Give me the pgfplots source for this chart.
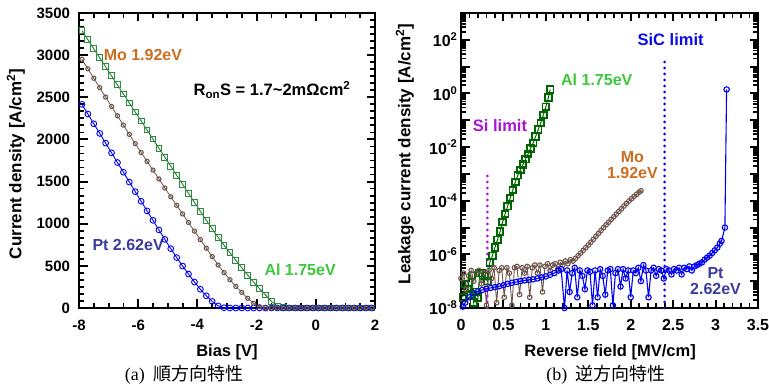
\documentclass[border=0pt]{standalone}
\usepackage{fontspec}
\setmainfont{Liberation Sans}
\newfontfamily\seriffont{Liberation Serif}
\newfontfamily\cjk{Noto Sans CJK JP}
\usepackage{pgfplots}
\pgfplotsset{compat=1.18}
\definecolor{alg}{RGB}{40,140,60}
\definecolor{algl}{RGB}{20,110,30}
\definecolor{allab}{RGB}{60,200,60}
\definecolor{mobr}{RGB}{110,85,75}
\definecolor{molab}{RGB}{205,110,30}
\definecolor{ptb}{RGB}{0,0,240}
\definecolor{ptlab}{RGB}{60,60,160}
\definecolor{aldk}{RGB}{0,100,0}
\definecolor{silim}{RGB}{170,20,210}
\definecolor{siclim}{RGB}{10,10,230}
\pgfplotsset{myax/.style={scale only axis, axis line style={line width=2.6pt},
  tick align=inside, xtick pos=both, ytick pos=both,
  major tick length=8.5pt, minor tick length=5pt,
  every major tick/.append style={draw=black, line width=2pt},
  every minor tick/.append style={draw=black, line width=1.8pt},
  /pgf/number format/assume math mode=true, /pgf/number format/1000 sep={},
  clip=false}}
\newcommand{\lab}[1]{\fontsize{#1}{#1}\selectfont\bfseries}
\begin{document}
\begin{tikzpicture}
\path[use as bounding box] (0,0) rectangle (769pt,390pt);
% ---------------- left: forward ----------------
\begin{axis}[myax, at={(79pt,82pt)}, anchor=south west, width=296pt, height=295pt,
  xmin=-8, xmax=2, ymin=0, ymax=3500,
  xtick={-8,-6,...,2}, minor xtick={-7.5,-7,...,1.5},
  ytick={0,500,...,3500}, minor y tick num=5,
  tick label style={font=\lab{15}},
  xticklabel style={yshift=-8pt},
  yticklabel style={xshift=-5.5pt},
  xlabel={Bias [V]}, xlabel style={font=\lab{16.5}, at={(axis description cs:0.5,-0.149)}, anchor=center},
  ylabel={Current density [A/cm\textsuperscript{2}]}, ylabel style={font=\lab{17}, at={(axis description cs:-0.213,0.488)}, anchor=center}]
\addplot[color=algl, line width=0.8pt, mark=square, mark size=2.9pt, mark options={draw=alg, fill=white, line width=1pt}] coordinates {
(-7.9,3290)(-7.7,3183)(-7.5,3076)(-7.3,2968)(-7.1,2861)(-6.9,2754)(-6.7,2647)(-6.5,2540)(-6.3,2432)(-6.1,2325)(-5.9,2218)(-5.7,2111)(-5.5,2004)(-5.3,1896)(-5.1,1789)(-4.9,1682)(-4.7,1575)(-4.5,1468)(-4.3,1360)(-4.1,1253)(-3.9,1146)(-3.7,1041)(-3.5,939)(-3.3,840)(-3.1,745)(-2.9,655)(-2.7,565)(-2.5,477)(-2.3,390)(-2.1,306)(-1.9,228)(-1.7,155)(-1.5,80)(-1.3,22)(-1.1,2)(-0.9,0)(-0.7,0)(-0.5,0)(-0.3,0)(-0.1,0)(0.1,0)(0.3,0)(0.5,0)(0.7,0)(0.9,0)(1.1,0)(1.3,0)(1.5,0)(1.7,0)(1.9,0)};
\addplot[color=ptb, line width=0.9pt, mark=o, mark size=2.9pt, mark options={draw=ptb, fill=white, line width=0.9pt}] coordinates {
(-7.9,2416)(-7.7,2301)(-7.5,2186)(-7.3,2071)(-7.1,1956)(-6.9,1841)(-6.7,1726)(-6.5,1611)(-6.3,1494)(-6.1,1380)(-5.9,1266)(-5.7,1152)(-5.5,1040)(-5.3,926)(-5.1,814)(-4.9,704)(-4.7,598)(-4.5,498)(-4.3,402)(-4.1,308)(-3.9,222)(-3.7,145)(-3.5,78)(-3.3,25)(-3.1,3)(-2.9,0)(-2.7,0)(-2.5,0)(-2.3,0)(-2.1,0)(-1.9,0)(-1.7,0)(-1.5,0)(-1.3,0)(-1.1,0)(-0.9,0)(-0.7,0)(-0.5,0)(-0.3,0)(-0.1,0)(0.1,0)(0.3,0)(0.5,0)(0.7,0)(0.9,0)(1.1,0)(1.3,0)(1.5,0)(1.7,0)(1.9,0)};
\addplot[color=mobr, line width=0.8pt, mark=o, mark size=2.1pt, mark options={draw=mobr, fill=white, line width=1.1pt}] coordinates {
(-7.9,2950)(-7.7,2838)(-7.5,2726)(-7.3,2614)(-7.1,2502)(-6.9,2390)(-6.7,2280)(-6.5,2170)(-6.3,2060)(-6.1,1950)(-5.9,1845)(-5.7,1740)(-5.5,1636)(-5.3,1531)(-5.1,1424)(-4.9,1320)(-4.7,1218)(-4.5,1116)(-4.3,1014)(-4.1,912)(-3.9,810)(-3.7,710)(-3.5,610)(-3.3,510)(-3.1,420)(-2.9,335)(-2.7,255)(-2.5,185)(-2.3,115)(-2.1,55)(-1.9,15)(-1.7,2)(-1.5,0)(-1.3,0)(-1.1,0)(-0.9,0)(-0.7,0)(-0.5,0)(-0.3,0)(-0.1,0)(0.1,0)(0.3,0)(0.5,0)(0.7,0)(0.9,0)(1.1,0)(1.3,0)(1.5,0)(1.7,0)(1.9,0)};
\node[font=\lab{16}, text=molab] at (axis cs:-5.84,3001) {Mo 1.92eV};
\node[font=\lab{16.5}, text=black] at (axis cs:-1.48,2586) {R\textsubscript{on}S = 1.7\textasciitilde2mΩcm\textsuperscript{2}};
\node[font=\lab{16}, text=ptlab] at (axis cs:-6.34,747) {Pt 2.62eV};
\node[font=\lab{16}, text=allab] at (axis cs:-0.53,451) {Al 1.75eV};
\end{axis}
% ---------------- right: reverse ----------------
\begin{axis}[myax, at={(461pt,82pt)}, anchor=south west, width=297pt, height=295pt,
  xmin=0, xmax=3.5, ymode=log, ymin=1e-8, ymax=1e3,
  xtick={0,0.5,...,3.5}, minor xtick={0.1,0.2,...,3.45},
  ytick={1e-8,1e-7,1e-6,1e-5,1e-4,1e-3,1e-2,1e-1,1,10,100,1000},
  yticklabels={10\textsuperscript{-8},,10\textsuperscript{-6},,10\textsuperscript{-4},,10\textsuperscript{-2},,10\textsuperscript{0},,10\textsuperscript{2},},
  tick label style={font=\lab{16}},
  xticklabel style={yshift=-8pt},
  xlabel={Reverse field [MV/cm]}, xlabel style={font=\lab{16.5}, at={(axis description cs:0.502,-0.149)}, anchor=center},
  ylabel={Leakage current density [A/cm\textsuperscript{2}]}, ylabel style={font=\lab{17}, at={(axis description cs:-0.189,0.522)}, anchor=center}]
\addplot[color=aldk, line width=1pt, mark=square, mark size=3.3pt, mark options={draw=aldk, fill=white, line width=1.8pt}] coordinates {
(0.02,2.5e-8)(0.05,7.9e-8)(0.08,5.0e-8)(0.11,3.2e-8)(0.13,1.6e-7)(0.15,1.6e-8)(0.18,4.0e-8)(0.20,2.5e-8)(0.22,2.0e-7)(0.25,2.0e-7)(0.28,1.6e-7)(0.31,1.0e-7)(0.34,5.0e-7)(0.37,8.9e-7)(0.40,1.8e-6)(0.43,3.5e-6)(0.46,7.1e-6)(0.49,1.6e-5)(0.52,3.2e-5)(0.55,6.3e-5)(0.58,1.26e-4)(0.61,2.5e-4)(0.64,5.0e-4)(0.67,8.9e-4)(0.70,1.41e-3)(0.73,2.24e-3)(0.76,3.55e-3)(0.79,5.6e-3)(0.82,8.9e-3)(0.85,1.41e-2)(0.88,2.5e-2)(0.91,4.5e-2)(0.94,7.9e-2)(0.97,0.158)(1.00,0.316)(1.03,0.71)(1.05,1.41)};
\addplot[color=mobr, line width=0.9pt, mark=o, mark size=2.3pt, mark options={draw=mobr, fill=white, line width=1.1pt}] coordinates {
(0.00,1.26e-7)(0.03,2.0e-7)(0.06,5.0e-8)(0.09,1.58e-7)(0.12,2.51e-7)(0.15,1.0e-7)(0.18,2.0e-7)(0.21,2.51e-7)(0.24,7.94e-8)(0.27,2.0e-7)(0.30,1.26e-8)(0.33,2.51e-7)(0.36,1.26e-7)(0.39,3.16e-7)(0.42,1.58e-8)(0.45,2.51e-7)(0.48,3.16e-7)(0.51,2.51e-8)(0.54,3.16e-7)(0.57,2.0e-7)(0.60,1.26e-8)(0.63,3.16e-7)(0.66,3.55e-7)(0.69,3.16e-8)(0.72,3.16e-7)(0.75,2.0e-7)(0.78,3.55e-7)(0.81,2.51e-8)(0.84,3.16e-7)(0.87,3.98e-7)(0.90,2.0e-7)(0.93,3.98e-7)(0.96,3.98e-8)(0.99,3.55e-7)(1.02,4.47e-7)(1.05,2.51e-7)(1.08,3.98e-7)(1.11,4.47e-7)(1.14,2.82e-7)(1.17,5.01e-7)(1.20,3.98e-7)(1.23,5.62e-7)(1.26,4.47e-7)(1.29,6.31e-7)(1.32,5.62e-7)(1.35,7.08e-7)(1.38,8.91e-7)(1.41,1.12e-6)(1.44,1.41e-6)(1.47,1.78e-6)(1.50,2.24e-6)(1.53,2.82e-6)(1.56,3.63e-6)(1.59,4.68e-6)(1.62,6.03e-6)(1.65,7.76e-6)(1.68,1.0e-5)(1.71,1.26e-5)(1.74,1.58e-5)(1.77,2.0e-5)(1.80,2.51e-5)(1.83,3.16e-5)(1.86,3.98e-5)(1.89,5.01e-5)(1.92,6.31e-5)(1.95,7.94e-5)(1.98,9.77e-5)(2.01,1.20e-4)(2.04,1.45e-4)(2.07,1.74e-4)(2.10,2.09e-4)(2.12,2.34e-4)};
\addplot[color=ptb, line width=1.1pt, mark=o, mark size=2.7pt, mark options={draw=ptb, fill=white, line width=1.1pt}] coordinates {
(0.02,1.12e-8)(0.05,1.58e-8)(0.10,2.51e-8)(0.15,3.55e-8)(0.20,4.17e-8)(0.25,4.68e-8)(0.30,5.25e-8)(0.35,5.62e-8)(0.40,6.03e-8)(0.45,6.46e-8)(0.50,7.08e-8)(0.55,7.94e-8)(0.60,8.71e-8)(0.65,9.33e-8)(0.70,1.0e-7)(0.75,1.07e-7)(0.80,1.12e-7)(0.85,1.17e-7)(0.90,1.26e-7)(0.95,1.38e-7)(1.00,1.51e-7)(1.05,1.74e-7)(1.10,2.0e-7)(1.15,2.51e-7)(1.18,2.82e-7)(1.22,1.0e-8)(1.25,2.51e-7)(1.28,3.98e-8)(1.31,2.0e-7)(1.34,3.16e-7)(1.37,2.51e-8)(1.40,2.51e-7)(1.43,1.58e-7)(1.46,5.01e-8)(1.49,2.51e-7)(1.52,2.24e-7)(1.55,1.26e-8)(1.58,2.51e-7)(1.61,2.51e-8)(1.64,2.82e-7)(1.67,1.58e-7)(1.70,3.16e-8)(1.73,2.51e-7)(1.76,2.82e-7)(1.79,1.26e-8)(1.82,2.0e-7)(1.85,2.82e-7)(1.88,6.31e-8)(1.91,2.82e-7)(1.94,1.26e-7)(1.97,2.51e-7)(2.00,2.51e-8)(2.03,2.51e-7)(2.06,2.0e-7)(2.09,3.16e-7)(2.12,1.0e-7)(2.15,3.98e-7)(2.18,2.51e-7)(2.21,2.51e-8)(2.24,2.51e-7)(2.27,3.16e-7)(2.30,1.58e-7)(2.33,2.82e-7)(2.36,2.51e-7)(2.39,1.26e-7)(2.42,2.82e-7)(2.45,2.51e-7)(2.48,1.78e-7)(2.51,2.82e-7)(2.54,2.51e-7)(2.57,3.16e-7)(2.60,1.78e-7)(2.63,3.16e-7)(2.66,2.82e-7)(2.69,3.55e-7)(2.72,2.51e-7)(2.75,3.55e-7)(2.78,3.98e-7)(2.81,4.47e-7)(2.84,5.01e-7)(2.87,6.31e-7)(2.90,7.59e-7)(2.93,8.91e-7)(2.96,1.12e-6)(2.99,1.41e-6)(3.02,1.78e-6)(3.05,2.51e-6)(3.07,3.16e-6)(3.11,1.0e-5)(3.13,1.41)};
\addplot[silim, line width=3pt, dash pattern=on 0pt off 6pt, line cap=round] coordinates {(0.31,1e-8)(0.31,1e-3)};
\addplot[siclim, line width=3pt, dash pattern=on 0pt off 6pt, line cap=round] coordinates {(2.40,1e-8)(2.40,20)};
\node[font=\lab{16.5}, text=siclim] at (axis cs:2.47,1e2) {SiC limit};
\node[font=\lab{16}, text=allab] at (axis cs:1.60,3.2) {Al 1.75eV};
\node[font=\lab{16.5}, text=silim] at (axis cs:0.46,0.062) {Si limit};
\node[font=\lab{16}, text=molab, align=center] at (axis cs:2.02,2.2e-3) {Mo\\1.92eV};
\node[font=\lab{16}, text=ptlab, align=center] at (axis cs:3.0,1.0e-7) {Pt\\2.62eV};
\end{axis}
\node[font=\fontsize{18}{18}\selectfont] at (184pt,15pt) {{\seriffont (a)}\hspace{0.45em}{\cjk 順方向特性}};
\node[font=\fontsize{18}{18}\selectfont] at (606pt,15pt) {{\seriffont (b)}\hspace{0.45em}{\cjk 逆方向特性}};
\end{tikzpicture}
\end{document}
